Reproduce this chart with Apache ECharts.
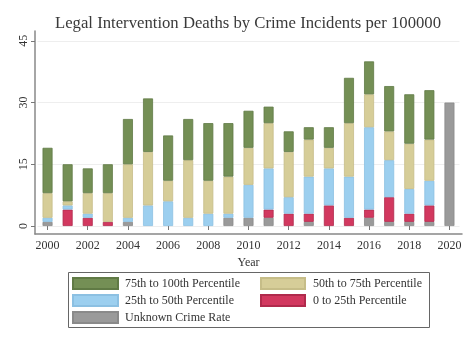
<!DOCTYPE html>
<html>
<head>
<meta charset="utf-8">
<script src="https://cdn.jsdelivr.net/npm/echarts@6/dist/echarts.min.js"></script>
<style>html,body{margin:0;padding:0;background:#fff}#c{width:474px;height:345px}</style>
</head>
<body>
<div id="c"></div>
<script>
const years = ['2000','2001','2002','2003','2004','2005','2006','2007','2008','2009','2010','2011','2012','2013','2014','2015','2016','2017','2018','2019','2020'];
const unknownRate = [1,0,0,0,1,0,0,0,0,2,2,2,0,1,0,0,2,1,1,1,30];
const p0to25     = [0,4,2,1,0,0,0,0,0,0,0,2,3,2,5,2,2,6,2,4,0];
const p25to50    = [1,1,1,0,1,5,6,2,3,1,8,10,4,9,9,10,20,9,6,6,0];
const p50to75    = [6,1,5,7,13,13,5,14,8,9,9,11,11,9,5,13,8,7,11,10,0];
const p75to100   = [11,9,6,7,11,13,11,10,14,13,9,4,5,3,5,11,8,11,12,12,0];
const yTicks = [0,15,30,45];

const FONT = 'Liberation Serif';
const clean = a => a.map(v => v === 0 ? '-' : v);
const mk = (name, data, color, border) => ({
  name, type: 'bar', stack: 'all', data: clean(data), barWidth: 10,
  xAxisIndex: 0, yAxisIndex: 0,
  itemStyle: { color, borderColor: border, borderWidth: 0.8 }
});

const chart = echarts.init(document.getElementById('c'));
chart.setOption({
  animation: false,
  backgroundColor: '#fff',
  title: {
    text: 'Legal Intervention Deaths by Crime Incidents per 100000',
    left: 248, top: 15, textAlign: 'center', padding: 0,
    textStyle: { fontFamily: FONT, fontSize: 16.7, fontWeight: 'normal', color: '#3a3a3a' }
  },
  grid: [
    { left: 37.5, right: 14.5, top: 40.8, height: 185.2 },
    { left: 35, right: 12, top: 31, height: 203 }
  ],
  xAxis: [
    {
      type: 'category', gridIndex: 0, data: years, offset: 8,
      axisLine: { show: false },
      axisTick: { show: true, interval: 1, alignWithLabel: true, length: 4, lineStyle: { color: '#777' } },
      axisLabel: { interval: 1, margin: 6, fontFamily: FONT, fontSize: 12, color: '#333' },
      name: 'Year', nameLocation: 'middle', nameGap: 22,
      nameTextStyle: { fontFamily: FONT, fontSize: 12, color: '#333' }
    },
    {
      type: 'value', gridIndex: 1, min: 0, max: 1,
      axisLine: { show: true, onZero: false, lineStyle: { color: '#888', width: 1.5 } },
      axisTick: { show: false }, axisLabel: { show: false }, splitLine: { show: false }
    }
  ],
  yAxis: [
    {
      type: 'value', gridIndex: 0, min: yTicks[0], max: yTicks[yTicks.length - 1], interval: 15, offset: 2.5,
      axisLine: { show: false },
      axisTick: { show: true, length: 4, lineStyle: { color: '#777' } },
      axisLabel: { rotate: 90, margin: 5, fontFamily: FONT, fontSize: 12, color: '#333' },
      splitLine: { show: true, lineStyle: { color: '#eeeeee', width: 1 } }
    },
    {
      type: 'value', gridIndex: 1, min: 0, max: 1,
      axisLine: { show: true, onZero: false, lineStyle: { color: '#888', width: 1.5 } },
      axisTick: { show: false }, axisLabel: { show: false }, splitLine: { show: false }
    }
  ],
  legend: [
    {
      data: ['75th to 100th Percentile', '25th to 50th Percentile', 'Unknown Crime Rate'],
      orient: 'vertical', left: 72, top: 277, padding: 0, itemWidth: 45, itemHeight: 11, itemGap: 4,
      icon: 'rect', selectedMode: false,
      textStyle: { fontFamily: FONT, fontSize: 12, color: '#333', padding: [0, 0, 0, 2] }
    },
    {
      data: ['50th to 75th Percentile', '0 to 25th Percentile'],
      orient: 'vertical', left: 260, top: 277, padding: 0, itemWidth: 44, itemHeight: 11, itemGap: 4,
      icon: 'rect', selectedMode: false,
      textStyle: { fontFamily: FONT, fontSize: 12, color: '#333', padding: [0, 0, 0, 3] }
    }
  ],
  graphic: [
    { type: 'rect', shape: { x: 68.5, y: 272.5, width: 361, height: 55 },
      style: { fill: 'none', stroke: '#666', lineWidth: 1 }, z: -1 }
  ],
  series: [
    mk('Unknown Crime Rate', unknownRate, '#9a9a9a', '#8a8a8a'),
    mk('0 to 25th Percentile', p0to25, '#d2385f', '#b02a4c'),
    mk('25th to 50th Percentile', p25to50, '#9ccfef', '#8cc0e2'),
    mk('50th to 75th Percentile', p50to75, '#d6cd98', '#c6bd88'),
    mk('75th to 100th Percentile', p75to100, '#748f55', '#607a45')
  ]
});
</script>
</body>
</html>
